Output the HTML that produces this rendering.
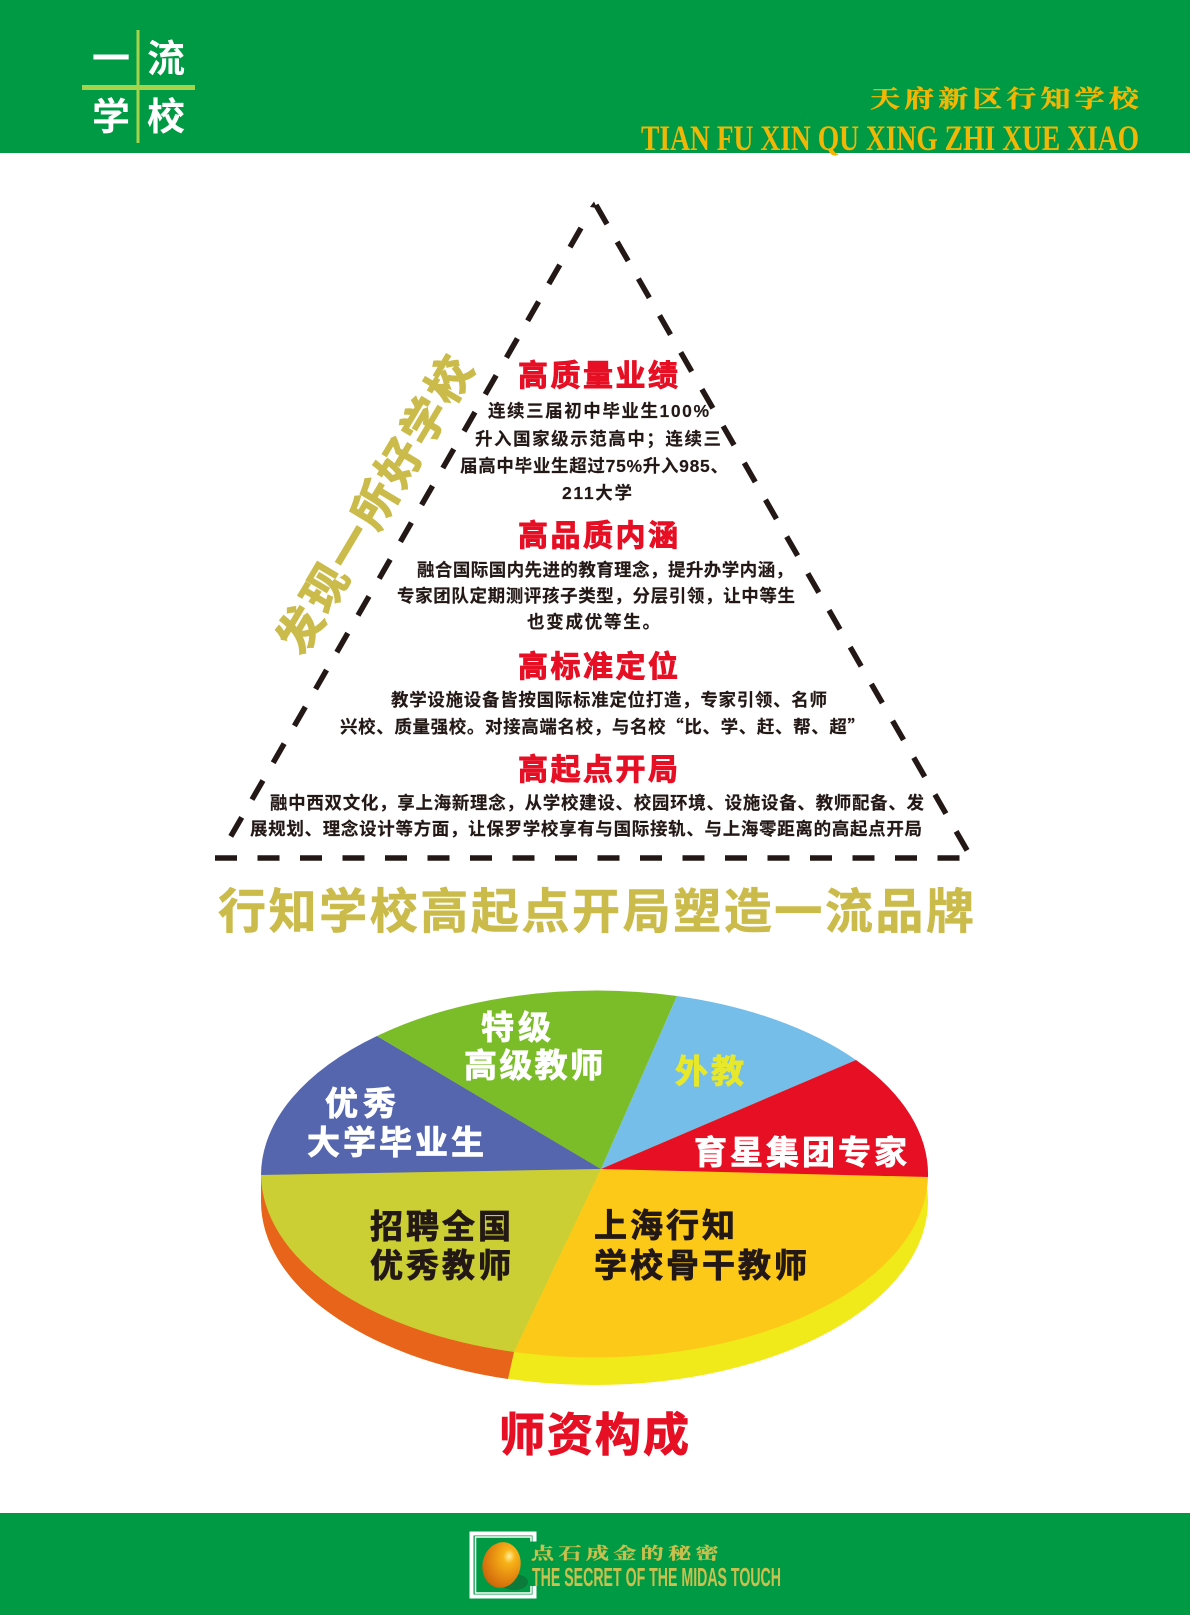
<!DOCTYPE html>
<html lang="zh-CN">
<head>
<meta charset="utf-8">
<title>行知学校</title>
<style>
html,body{margin:0;padding:0;background:#fff;width:1190px;height:1615px;overflow:hidden}
svg{display:block}
text{font-family:"Liberation Sans","Noto Sans CJK SC",sans-serif;font-weight:700}
.t{fill:#e60f24;font-size:30px;stroke:#e60f24;stroke-width:.9}
.b{fill:#231815;font-size:17.500px;stroke:#231815;stroke-width:.15}
.p{font-size:33px;stroke-width:.8}
.w{fill:#fff;stroke:#fff}
.k{fill:#231815;stroke:#231815}
.serif{font-family:"Liberation Serif","Noto Serif CJK SC",serif}
.cjk{font-family:"Noto Sans CJK SC",sans-serif}
</style>
</head>
<body>
<svg xmlns="http://www.w3.org/2000/svg" width="1190" height="1615" viewBox="0 0 1190 1615">
<defs>
<radialGradient id="egg" cx="0.65" cy="0.28" r="0.85">
<stop offset="0" stop-color="#fff0a0"/>
<stop offset="0.18" stop-color="#f8b418"/>
<stop offset="0.55" stop-color="#e48a10"/>
<stop offset="0.8" stop-color="#d4700c"/>
<stop offset="1" stop-color="#b85a08"/>
</radialGradient>
</defs>

<rect x="0" y="0" width="1190" height="153" fill="#009a44"/>
<rect x="136.500" y="30" width="3" height="113" fill="#a5d44c"/>
<rect x="82" y="85" width="113" height="5" fill="#a5d44c"/>
<text x="92" y="72" font-size="38" fill="#fff">一</text>
<text x="147" y="72" font-size="38" fill="#fff">流</text>
<text x="92" y="130" font-size="38" fill="#fff">学</text>
<text x="147" y="130" font-size="38" fill="#fff">校</text>
<text class="serif" transform="translate(870 107) scale(1.25 1)" font-size="24" fill="#f2b705" stroke="#f2b705" stroke-width=".4" textLength="215">天府新区行知学校</text>
<text class="serif" x="641" y="150" font-size="36" fill="#f2b705" textLength="498" lengthAdjust="spacingAndGlyphs">TIAN FU XIN QU XING ZHI XUE XIAO</text>

<g stroke="#231815" stroke-width="5.500" fill="none" stroke-dasharray="22 20.500">
<path d="M596 205 L968 852"/>
<path d="M581 228 L230.600 836.700"/>
<path d="M215 858 L961 858"/>
</g>
<polygon points="594,201.500 597,208 590,207" fill="#231815"/>

<text class="t" x="518" y="386" textLength="160">高质量业绩</text>
<text class="b" x="488" y="417" textLength="221">连续三届初中毕业生100%</text>
<text class="b" x="475" y="445" textLength="246">升入国家级示范高中&#xFF1B;连续三</text>
<text class="b" x="460" y="472" textLength="268">届高中毕业生超过75%升入985、</text>
<text class="b" x="562" y="499" textLength="70">211大学</text>

<text class="t" x="518" y="546" textLength="160">高品质内涵</text>
<text class="b" x="417" y="576" textLength="376">融合国际国内先进的教育理念&#xFF0C;提升办学内涵&#xFF0C;</text>
<text class="b" x="397" y="602" textLength="398">专家团队定期测评孩子类型&#xFF0C;分层引领&#xFF0C;让中等生</text>
<text class="b" x="527" y="628" textLength="133">也变成优等生。</text>

<text class="t" x="518" y="677" textLength="160">高标准定位</text>
<text class="b" x="391" y="706" textLength="436">教学设施设备皆按国际标准定位打造&#xFF0C;专家引领、名师</text>
<text class="b" x="340" y="733" textLength="525">兴校、质量强校。对接高端名校&#xFF0C;与名校<tspan class="cjk">&#x201C;</tspan>比、学、赶、帮、超<tspan class="cjk">&#x201D;</tspan></text>

<text class="t" x="518" y="780" textLength="160">高起点开局</text>
<text class="b" x="270" y="809" textLength="654">融中西双文化&#xFF0C;享上海新理念&#xFF0C;从学校建设、校园环境、设施设备、教师配备、发</text>
<text class="b" x="250" y="835" textLength="672">展规划、理念设计等方面&#xFF0C;让保罗学校享有与国际接轨、与上海零距离的高起点开局</text>

<text x="218" y="928" font-size="48" fill="#cbbb4b" stroke="#cbbb4b" stroke-width=".6" textLength="756">行知学校高起点开局塑造一流品牌</text>

<text transform="translate(374 504) rotate(-59.200)" x="-168" y="17" font-size="45" fill="#cbbb4b" stroke="#cbbb4b" stroke-width="1.200" textLength="336">发现一所好学校</text>

<ellipse cx="594.500" cy="1201" rx="333.500" ry="184" fill="#f0ea1a"/>
<path d="M261 1175 L261 1201 A333.500 184 0 0 0 508 1379 L514 1352 Z" fill="#e8641b"/>
<path d="M601 1169 L928 1177 A333.500 184 0 0 1 514 1352 Z" fill="#fcc918"/>
<path d="M601 1169 L261 1175 A333.500 184 0 0 0 514 1352 Z" fill="#cbcf34"/>
<path d="M601 1169 L261 1175 A333.500 184 0 0 1 377 1036 Z" fill="#5565ae"/>
<path d="M601 1169 L377 1036 A333.500 184 0 0 1 677 996 Z" fill="#7abd28"/>
<path d="M601 1169 L677 996 A333.500 184 0 0 1 856 1060 Z" fill="#76beea"/>
<path d="M601 1169 L856 1060 A333.500 184 0 0 1 928 1177 Z" fill="#e60f24"/>

<text class="p w" x="481" y="1039" textLength="70">特级</text>
<text class="p w" x="464" y="1077" textLength="139">高级教师</text>
<text class="p" x="675" y="1083" textLength="69" fill="#e8e82a" stroke="#e8e82a">外教</text>
<text class="p w" x="325" y="1115" textLength="71">优秀</text>
<text class="p w" x="307" y="1154" textLength="177">大学毕业生</text>
<text class="p w" x="694" y="1164" textLength="213">育星集团专家</text>
<text class="p k" x="370" y="1238" textLength="141">招聘全国</text>
<text class="p k" x="370" y="1277" textLength="141">优秀教师</text>
<text class="p k" x="594" y="1237" textLength="141">上海行知</text>
<text class="p k" x="594" y="1277" textLength="213">学校骨干教师</text>

<text x="499" y="1451" font-size="46" fill="#e60f24" stroke="#e60f24" stroke-width=".9" textLength="190">师资构成</text>

<rect x="0" y="1513" width="1190" height="102" fill="#009a44"/>
<path d="M534.500 1541.500 L534.500 1533.500 L471.500 1533.500 L471.500 1596.500 L534.500 1596.500 L534.500 1586" fill="none" stroke="#fff" stroke-width="4"/>
<path d="M531 1541.500 L531 1537 L475.500 1537 L475.500 1593 L531 1593 L531 1586" fill="none" stroke="#fff" stroke-width="1.500"/>
<ellipse cx="514" cy="1582" rx="14" ry="8" fill="#0b7a3a"/>
<ellipse cx="501.500" cy="1565" rx="19" ry="23" transform="rotate(12 501.500 1565)" fill="url(#egg)"/>
<text class="serif" transform="translate(531 1559) scale(1.400 1)" font-size="16.500" fill="#c9c04f" stroke="#c9c04f" stroke-width=".3" textLength="134">点石成金的秘密</text>
<text x="532" y="1586" font-size="26" fill="#c9c04f" textLength="249" lengthAdjust="spacingAndGlyphs">THE SECRET OF THE MIDAS TOUCH</text>
</svg>
</body>
</html>
